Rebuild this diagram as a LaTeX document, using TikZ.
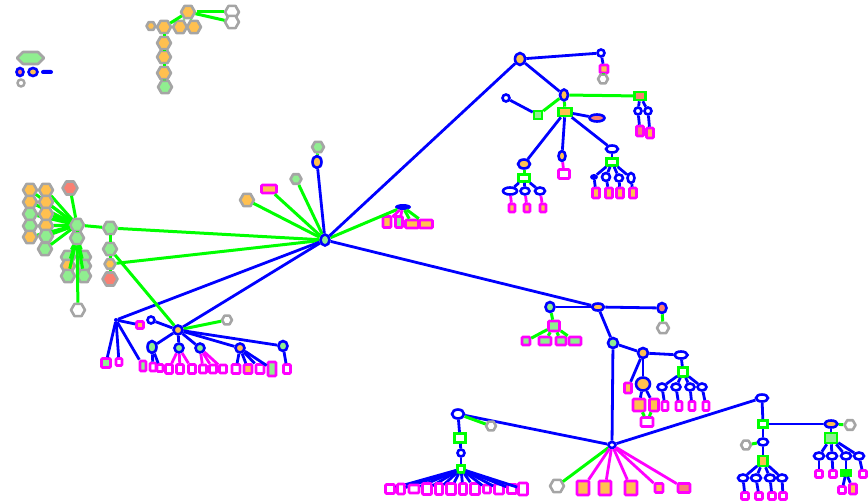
\documentclass[tikz,border=0pt]{standalone}
\usetikzlibrary{shapes.geometric}
\definecolor{cg}{RGB}{0,255,0}
\definecolor{cb}{RGB}{0,0,255}
\definecolor{cm}{RGB}{255,0,255}
\definecolor{cgy}{RGB}{165,165,165}
\definecolor{fo}{RGB}{255,192,80}
\definecolor{fg}{RGB}{144,238,144}
\definecolor{fr}{RGB}{250,128,114}
\begin{document}
\begin{tikzpicture}[x=1pt,y=-1pt,
 gy/.style={regular polygon,regular polygon sides=6,draw=cgy,line width=2.6pt,minimum size=14pt,inner sep=0pt,fill=white,line join=round},
 bl/.style={ellipse,draw=cb,line width=2.6pt,minimum width=8pt,minimum height=10pt,inner sep=0pt,fill=white},
 mg/.style={rectangle,draw=cm,line width=2.6pt,minimum width=8pt,minimum height=10pt,inner sep=0pt,fill=white,rounded corners=1pt},
 gb/.style={rectangle,draw=cg,line width=2.6pt,minimum width=10pt,minimum height=8pt,inner sep=0pt,fill=white},
 ge/.style={draw=cg,line width=3pt},
 be/.style={draw=cb,line width=2.8pt},
 me/.style={draw=cm,line width=2.8pt}]
\useasboundingbox (0,0) rectangle (868,503);

% ---------- top-left isolated ----------
\node[minimum width=26pt,minimum height=12pt,inner sep=0pt] (iso1) at (30,58) {};
\path[draw=cgy,fill=fg,line width=2.6pt,line join=round] (17,58) -- (23,52) -- (38,52) -- (44,58) -- (38,64) -- (23,64) -- cycle;
\node[bl,fill=fr,minimum width=7pt,minimum height=8pt] (iso2) at (20,72) {};
\node[bl,fill=fo,minimum width=9pt,minimum height=8pt] (iso3) at (33,72) {};
\node[rectangle,rounded corners=2pt,fill=cb,minimum width=12pt,minimum height=4pt,inner sep=0pt] (iso4) at (47,72) {};
\node[circle,draw=cgy,line width=2.4pt,minimum size=7pt,inner sep=0pt] (iso5) at (21,83) {};

% ---------- top cluster ----------
\node[gy,fill=fo] (t0) at (188,12) {};
\node[gy] (t1) at (232,12) {};
\node[gy] (t2) at (232,22) {};
\node[gy,fill=fo,minimum size=9pt] (t3) at (151,26) {};
\node[gy,fill=fo] (t4) at (164,27) {};
\node[gy,fill=fo] (t5) at (180,27) {};
\node[gy,fill=fo] (t6) at (194,27) {};
\node[gy,fill=fo] (t7) at (164,43) {};
\node[gy,fill=fo] (t8) at (164,57) {};
\node[gy,fill=fo] (t9) at (164,73) {};
\node[gy,fill=fg] (t10) at (165,87) {};
\foreach \a/\b in {t0/t1,t0/t2,t0/t4,t0/t5,t0/t6,t4/t7,t7/t8,t8/t9,t9/t10}
  \draw[ge] (\a) -- (\b);

% ---------- left cluster ----------
\node[gy,fill=fg] (L0) at (77,225) {};
\foreach \n/\x/\y/\f in {a/30/190/fo,b/46/190/fo,c/30/202/fo,d/46/202/fo,e/30/214/fg,f/46/214/fo,g/30/226/fg,h/46/226/fo,i/30/237/fo,j/46/236/fg,k/45/249/fg}
  {\node[gy,fill=\f] (La\n) at (\x,\y) {};
   \draw[ge] (L0) -- (La\n);}
\node[gy,fill=fr,minimum size=15pt] (Lar) at (70,188) {};
\draw[ge] (L0) -- (Lar);
\node[gy,fill=fg] (L1) at (77,238) {};
\draw[ge] (L0) -- (L1);
\foreach \n/\x/\y/\f in {a/68/257/fg,b/84/257/fg,c/68/266/fo,d/84/266/fg,e/68/276/fg,f/84/276/fg}
  {\node[gy,fill=\f] (Lb\n) at (\x,\y) {};
   \draw[ge] (L1) -- (Lb\n);}
\node[gy] (L2) at (78,310) {};
\draw[ge] (L1) -- (L2);
\node[gy,fill=fg] (R0) at (110,228) {};
\node[gy,fill=fg] (R1) at (110,249) {};
\node[gy,fill=fo,minimum size=11pt] (R2) at (110,264) {};
\node[gy,fill=fr,minimum size=15pt] (R3) at (110,279) {};
\draw[ge] (L0) -- (R0);
\draw[ge] (R0) -- (R1);
\draw[ge] (R1) -- (R2);
\draw[ge] (R2) -- (R3);

% ---------- main hub ----------
\node[bl,fill=fg,minimum width=9pt,minimum height=11pt] (H) at (325,240) {};
\draw[ge] (R0) -- (H);
\draw[ge] (R2) -- (H);
\node[mg,fill=fo,minimum width=15pt,minimum height=8pt] (u1) at (269,189) {};
\node[gy,fill=fo] (u2) at (247,200) {};
\node[gy,fill=fg,minimum size=11pt] (u3) at (296,179) {};
\node[bl,fill=fo,minimum width=9pt,minimum height=12pt] (u4) at (317,162) {};
\node[gy,fill=fg,minimum size=12pt] (u5) at (318,147) {};
\draw[ge] (u1) -- (H);
\draw[ge] (u2) -- (H);
\draw[ge] (u3) -- (H);
\draw[be] (u4) -- (H);
\draw[ge] (u4) -- (u5);
\node[ellipse,fill=cb,minimum width=16pt,minimum height=6pt,inner sep=0pt] (v0) at (403,207) {};
\node[mg,fill=fo,minimum height=11pt] (v1) at (387,222) {};
\node[mg,fill=fg,minimum width=7pt,minimum height=11pt] (v2) at (399,222) {};
\node[mg,fill=fo,minimum width=13pt,minimum height=8pt] (v3) at (412,224) {};
\node[mg,fill=fo,minimum width=13pt,minimum height=8pt] (v4) at (426,224) {};
\draw[ge] (H) -- (v0);
\draw[me] (v0) -- (v1);
\draw[me] (v0) -- (v2);
\draw[ge] (v0) -- (v3);
\draw[ge] (v0) -- (v4);

% ---------- top-right cluster ----------
\node[bl,fill=fo,minimum width=10pt,minimum height=12pt] (a0) at (520,59) {};
\draw[be] (H) -- (a0);
\node[bl,minimum width=7pt,minimum height=7pt] (a1) at (601,53) {};
\node[mg,fill=fo,minimum width=8pt,minimum height=8pt] (a2) at (604,69) {};
\node[gy,minimum size=10pt] (a3) at (603,79) {};
\draw[be] (a0) -- (a1);
\draw[be] (a1) -- (a2);
\draw[ge] (a2) -- (a3);
\node[bl,fill=fo,minimum width=8pt,minimum height=11pt] (b0) at (564,95) {};
\draw[be] (a0) -- (b0);
\node[bl,minimum width=7pt,minimum height=7pt] (b1) at (506,98) {};
\node[gb,fill=fg,minimum width=8pt,minimum height=8pt] (b2) at (538,115) {};
\draw[be] (b1) -- (b2);
\draw[ge] (b2) -- (b0);
\node[gb,fill=fr,minimum width=11pt,minimum height=8pt] (c0) at (640,96) {};
\draw[ge] (b0) -- (c0);
\node[bl,minimum width=7pt,minimum height=7pt] (c1) at (638,111) {};
\node[bl,minimum width=7pt,minimum height=7pt] (c2) at (648,111) {};
\node[mg,fill=fr,minimum width=7pt] (c3) at (640,131) {};
\node[mg,fill=fo,minimum width=7pt] (c4) at (650,133) {};
\draw[be] (c0) -- (c1);
\draw[be] (c0) -- (c2);
\draw[be] (c1) -- (c3);
\draw[be] (c2) -- (c4);
\node[gb,fill=fo,minimum width=13pt,minimum height=8pt] (d0) at (565,112) {};
\draw[ge] (b0) -- (d0);
\node[bl,fill=fr,minimum width=15pt,minimum height=7pt] (d1) at (597,118) {};
\draw[be] (d0) -- (d1);
\node[bl,fill=fo,minimum width=7pt,minimum height=10pt] (d2) at (562,156) {};
\node[mg,minimum width=11pt,minimum height=9pt] (d3) at (564,174) {};
\draw[be] (d0) -- (d2);
\draw[me] (d2) -- (d3);
\node[bl,fill=fo,minimum width=12pt,minimum height=9pt] (e0) at (524,164) {};
\draw[be] (d0) -- (e0);
\node[gb,fill=white,minimum width=11pt,minimum height=7pt] (e1) at (524,178) {};
\draw[ge] (e0) -- (e1);
\foreach \n/\x/\xb/\w in {a/510/512/14pt,b/525/527/9pt,c/540/543/10pt}
  {\node[bl,minimum width=\w,minimum height=7pt] (e\n) at (\x,191) {};
   \node[mg,fill=fo,minimum width=6pt,minimum height=8pt] (f\n) at (\xb,208) {};
   \draw[be] (e1) -- (e\n);
   \draw[me] (e\n) -- (f\n);}
\node[bl,minimum width=12pt,minimum height=7pt] (g0) at (612,149) {};
\draw[be] (d0) -- (g0);
\node[gb,minimum width=11pt,minimum height=7pt] (g1) at (612,162) {};
\draw[be] (g0) -- (g1);
\node[ellipse,fill=cb,minimum width=8pt,minimum height=6pt,inner sep=0pt] (ga) at (594,177) {};
\node[bl,minimum width=8pt,minimum height=8pt] (gb) at (606,177) {};
\node[bl,minimum width=8pt,minimum height=7pt] (gc) at (619,178) {};
\node[bl,minimum width=7pt,minimum height=10pt] (gd) at (631,178) {};
\foreach \n/\x in {a/596,b/609,c/620,d/633}
  {\node[mg,fill=fo,minimum width=7pt,minimum height=10pt] (h\n) at (\x,193) {};
   \draw[be] (g1) -- (g\n);
   \draw[be] (g\n) -- (h\n);}

% ---------- middle-right cluster ----------
\node[bl,fill=fg,minimum width=9pt,minimum height=10pt] (m0) at (550,307) {};
\node[bl,fill=fo,minimum width=12pt,minimum height=7pt] (m1) at (598,307) {};
\node[bl,fill=fr,minimum width=9pt,minimum height=10pt] (m2) at (662,308) {};
\draw[be] (H) -- (m1);
\draw[be] (m0) -- (m1);
\draw[be] (m1) -- (m2);
\node[gy,minimum size=12pt] (m3) at (663,328) {};
\draw[ge] (m2) -- (m3);
\node[mg,fill=fg,minimum width=11pt,minimum height=10pt] (n0) at (554,326) {};
\draw[ge] (m0) -- (n0);
\foreach \n/\x/\w in {a/526/8pt,b/545/12pt,c/561/10pt,d/575/12pt}
  {\node[mg,fill=fg,minimum width=\w,minimum height=8pt] (n\n) at (\x,341) {};
   \draw[ge] (n0) -- (n\n);}
\node[bl,fill=fg,minimum width=10pt,minimum height=10pt] (p0) at (613,343) {};
\draw[be] (m1) -- (p0);
\node[bl,fill=fo,minimum width=10pt,minimum height=10pt] (p1) at (643,353) {};
\draw[be] (p0) -- (p1);
\node[mg,fill=fo,minimum width=7pt,minimum height=10pt] (p2) at (628,388) {};
\draw[be] (p1) -- (p2);
\node[bl,fill=fo,minimum width=14pt,minimum height=13pt] (p3) at (643,384) {};
\draw[be] (p1) -- (p3);
\node[mg,fill=fo,minimum width=12pt,minimum height=12pt] (p4) at (639,405) {};
\node[mg,fill=fo,minimum width=9pt,minimum height=12pt] (p5) at (654,405) {};
\node[mg,minimum width=12pt,minimum height=9pt] (p6) at (647,422) {};
\draw[be] (p3) -- (p4);
\draw[be] (p3) -- (p5);
\draw[ge] (p4) -- (p6);
\draw[ge] (p5) -- (p6);
\node[bl,minimum width=13pt,minimum height=7pt] (q0) at (681,355) {};
\draw[be] (p1) -- (q0);
\node[gb,minimum width=9pt,minimum height=9pt] (q1) at (683,372) {};
\draw[be] (q0) -- (q1);
\foreach \n/\x/\xb in {a/662/665,b/676/679,c/690/692,d/702/706}
  {\node[bl,minimum width=9pt,minimum height=7pt] (q\n) at (\x,387) {};
   \node[mg,minimum width=6pt,minimum height=9pt] (r\n) at (\xb,406) {};
   \draw[be] (q1) -- (q\n);
   \draw[be] (q\n) -- (r\n);}

% ---------- lower hub ----------
\node[bl,minimum width=7pt,minimum height=6pt] (K) at (612,445) {};
\draw[be] (p0) -- (K);
\node[bl,minimum width=12pt,minimum height=9pt] (k0) at (458,414) {};
\draw[be] (k0) -- (K);
\node[gy,minimum size=10pt] (k1) at (491,426) {};
\draw[ge] (k0) -- (k1);
\node[gb,minimum width=11pt,minimum height=9pt] (k2) at (460,438) {};
\draw[be] (k0) -- (k2);
\node[bl,minimum width=7pt,minimum height=7pt] (k3) at (461,453) {};
\draw[be] (k2) -- (k3);
\node[gb,fill=white,minimum width=7pt,minimum height=7pt] (k4) at (461,469) {};
\draw[be] (k3) -- (k4);
\foreach \i/\x/\w/\h in {1/390/9pt/9pt,2/401/7pt/10pt,3/414/10pt/8pt,4/427/9pt/11pt,5/439/7pt/11pt,6/451/9pt/11pt,7/463/7pt/11pt,8/475/9pt/11pt,9/487/7pt/8pt,10/499/9pt/10pt,11/512/9pt/9pt,12/523/9pt/12pt}
  {\node[mg,minimum width=\w,minimum height=\h] (kk\i) at (\x,489) {};
   \draw[be] (k4) -- (kk\i);}
\node[gy,minimum size=14pt] (K1) at (557,486) {};
\draw[ge] (K) -- (K1);
\foreach \i/\x/\w/\h/\f in {1/583/12pt/14pt/fo,2/605/12pt/14pt/fo,3/631/12pt/14pt/fo,4/659/8pt/9pt/fo,5/684/12pt/9pt/fr}
  {\node[mg,fill=\f,minimum width=\w,minimum height=\h] (Km\i) at (\x,488) {};
   \draw[me] (K) -- (Km\i);}

% ---------- lower-right cluster ----------
\node[bl,minimum width=12pt,minimum height=7pt] (w0) at (762,398) {};
\draw[be] (K) -- (w0);
\node[gb,minimum width=9pt,minimum height=7pt] (w1) at (763,424) {};
\draw[be] (w0) -- (w1);
\node[bl,fill=fo,minimum width=13pt,minimum height=7pt] (x0) at (831,424) {};
\draw[be] (w1) -- (x0);
\node[gy,minimum size=11pt] (x1) at (850,425) {};
\draw[ge] (x0) -- (x1);
\node[gb,fill=fg,minimum width=12pt,minimum height=10pt] (x2) at (831,438) {};
\draw[be] (x0) -- (x2);
\foreach \n/\x in {a/819,b/832,c/846,d/859}
  {\node[bl,minimum width=10pt,minimum height=7pt] (x\n) at (\x,456) {};
   \draw[be] (x2) -- (x\n);}
\node[mg,minimum width=7pt,minimum height=7pt] (ya) at (819,474) {};
\node[mg,minimum width=7pt,minimum height=7pt] (yb) at (833,474) {};
\node[gb,fill=cg,minimum width=10pt,minimum height=5pt] (yc) at (846,473) {};
\node[mg,minimum width=7pt,minimum height=7pt] (yd) at (863,474) {};
\draw[be] (xa) -- (ya);
\draw[be] (xb) -- (yb);
\draw[be] (xc) -- (yc);
\draw[be] (xd) -- (yd);
\node[mg,minimum width=7pt,minimum height=7pt] (ye) at (842,490) {};
\node[mg,fill=fo,minimum width=7pt,minimum height=10pt] (yf) at (853,489) {};
\draw[be] (yc) -- (ye);
\draw[be] (yc) -- (yf);
\node[bl,minimum width=10pt,minimum height=7pt] (z0) at (763,442) {};
\draw[be] (w1) -- (z0);
\node[gy,minimum size=10pt] (z1) at (746,445) {};
\draw[ge] (z0) -- (z1);
\node[gb,fill=fo,minimum width=9pt,minimum height=10pt] (z2) at (763,461) {};
\draw[be] (z0) -- (z2);
\foreach \n/\x/\xb in {a/743/745,b/756/759,c/770/772,d/782/783}
  {\node[bl,minimum width=10pt,minimum height=7pt] (z\n) at (\x,478) {};
   \node[mg,minimum width=7pt,minimum height=7pt] (zz\n) at (\xb,496) {};
   \draw[be] (z2) -- (z\n);
   \draw[be] (z\n) -- (zz\n);}

% ---------- lower-left cluster ----------
\node[circle,fill=cb,minimum size=4pt,inner sep=0pt] (s0) at (116,320) {};
\draw[be] (H) -- (s0);
\node[mg,fill=fg,minimum width=9pt,minimum height=9pt] (s1) at (106,363) {};
\node[mg,minimum width=6pt,minimum height=7pt] (s2) at (119,362) {};
\node[mg,fill=fo,minimum width=7pt,minimum height=7pt] (s3) at (140,325) {};
\node[mg,fill=fg,minimum width=6pt,minimum height=10pt] (s4) at (143,366) {};
\foreach \t in {s1,s2,s3,s4} \draw[be] (s0) -- (\t);
\node[bl,fill=fo,minimum width=9pt,minimum height=9pt] (S) at (178,330) {};
\draw[be] (H) -- (S);
\draw[ge] (R1) -- (S);
\node[bl,minimum width=7pt,minimum height=7pt] (s5) at (151,320) {};
\draw[be] (s5) -- (S);
\node[gy,minimum size=10pt] (s6) at (227,320) {};
\draw[ge] (S) -- (s6);
\node[bl,fill=fg,minimum width=9pt,minimum height=12pt] (s7) at (152,347) {};
\draw[be] (S) -- (s7);
\node[mg,minimum width=6pt,minimum height=8pt] (s7a) at (153,367) {};
\node[mg,minimum width=6pt,minimum height=7pt] (s7b) at (160,368) {};
\draw[be] (s7) -- (s7a);
\draw[be] (s7) -- (s7b);
\node[bl,fill=fg,minimum width=9pt,minimum height=9pt] (s8) at (179,348) {};
\draw[be] (S) -- (s8);
\foreach \i/\x in {1/169,2/180,3/192}
  {\node[mg,minimum width=7pt,minimum height=9pt] (s8\i) at (\x,369) {};
   \draw[me] (s8) -- (s8\i);}
\node[bl,fill=fg,minimum width=9pt,minimum height=9pt] (s9) at (200,348) {};
\draw[be] (S) -- (s9);
\foreach \i/\x in {1/203,2/213,3/223}
  {\node[mg,minimum width=7pt,minimum height=8pt] (s9\i) at (\x,369) {};
   \draw[me] (s9) -- (s9\i);}
\node[bl,fill=fo,minimum width=9pt,minimum height=9pt] (s10) at (240,348) {};
\draw[be] (S) -- (s10);
\foreach \i/\x/\f/\h in {1/236/white/9pt,2/248/fo/9pt,3/260/white/9pt,4/272/fg/14pt}
  {\node[mg,fill=\f,minimum width=8pt,minimum height=\h] (s10\i) at (\x,369) {};
   \draw[be] (s10) -- (s10\i);}
\node[bl,fill=fg,minimum width=9pt,minimum height=10pt] (s11) at (283,346) {};
\draw[be] (S) -- (s11);
\node[mg,minimum width=7pt,minimum height=9pt] (s11a) at (287,369) {};
\draw[be] (s11) -- (s11a);
\end{tikzpicture}
\end{document}
